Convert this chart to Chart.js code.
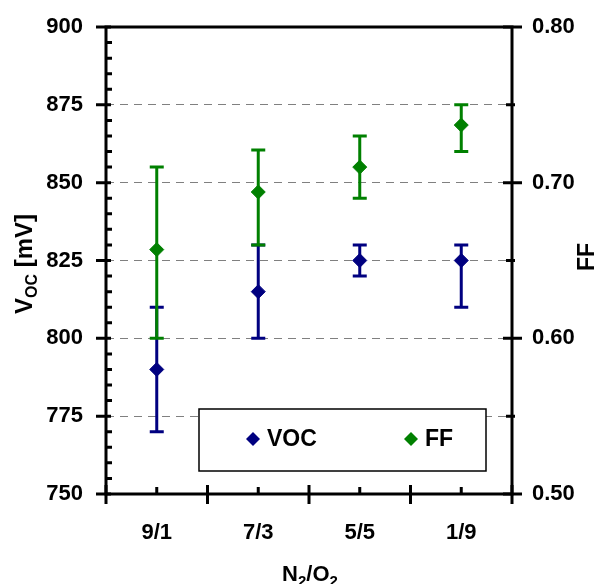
<!DOCTYPE html>
<html>
<head>
<meta charset="utf-8">
<script src="https://cdn.jsdelivr.net/npm/chart.js@4"></script>
<style>
  html, body { margin: 0; padding: 0; background: #fff; }
  canvas { display: block; }
</style>
</head>
<body>
<canvas id="chart" width="596" height="584"></canvas>
<script>
// gas ratio N2/O2 during processing
const categories = ['9/1', '7/3', '5/5', '1/9'];

// open-circuit voltage [mV] with error-bar limits
const vocValues = [790, 815, 825, 825];
const vocHigh = [810, 830, 830, 830];
const vocLow = [770, 800, 820, 810];

// fill factor with error-bar limits
const ffValues = [0.657, 0.694, 0.710, 0.737];
const ffHigh = [0.710, 0.721, 0.730, 0.750];
const ffLow = [0.600, 0.660, 0.690, 0.720];

const FONT = "'Liberation Sans', Arial, sans-serif";
const NAVY = '#000080';
const GREEN = '#008000';

// vertical error bars, drawn under each dataset's markers
const errorBars = {
  id: 'errorBars',
  beforeDatasetDraw(chart, args) {
    const ds = chart.data.datasets[args.index];
    if (!ds.errLow) return;
    const yScale = chart.scales[ds.yAxisID];
    const ctx = chart.ctx;
    ctx.save();
    ctx.strokeStyle = ds.borderColor;
    ctx.lineWidth = 3;
    args.meta.data.forEach((pt, i) => {
      const x = pt.x;
      const yHi = yScale.getPixelForValue(ds.errHigh[i]);
      const yLo = yScale.getPixelForValue(ds.errLow[i]);
      ctx.beginPath();
      ctx.moveTo(x, yHi); ctx.lineTo(x, yLo);
      ctx.moveTo(x - 7, yHi); ctx.lineTo(x + 7, yHi);
      ctx.moveTo(x - 7, yLo); ctx.lineTo(x + 7, yLo);
      ctx.stroke();
    });
    ctx.restore();
  }
};

// plot frame plus the tick marks that cross the axes
const axisFrame = {
  id: 'axisFrame',
  afterDatasetsDraw(chart) {
    const { ctx, chartArea: a, scales } = chart;
    ctx.save();
    ctx.strokeStyle = '#000';
    ctx.lineWidth = 3;
    ctx.strokeRect(a.left, a.top, a.right - a.left, a.bottom - a.top);
    ctx.beginPath();
    const y = scales.y;
    for (let v = y.min; v <= y.max; v += 5) {
      const py = y.getPixelForValue(v);
      if (v % 25 === 0) { ctx.moveTo(a.left - 10, py); ctx.lineTo(a.left + 5, py); }
      else { ctx.moveTo(a.left, py); ctx.lineTo(a.left + 6, py); }
    }
    const y1 = scales.y1;
    y1.ticks.forEach(t => {
      const py = y1.getPixelForValue(t.value);
      if (t.label !== '') { ctx.moveTo(a.right - 9, py); ctx.lineTo(a.right + 10, py); }
      else { ctx.moveTo(a.right - 6, py); ctx.lineTo(a.right + 3, py); }
    });
    const x = scales.x;
    for (let i = 0; i <= categories.length; i++) {
      const px = x.getPixelForValue(i - 0.5);
      ctx.moveTo(px, a.bottom - 9); ctx.lineTo(px, a.bottom + 10);
    }
    categories.forEach((c, i) => {
      const px = x.getPixelForValue(i);
      ctx.moveTo(px, a.bottom - 7); ctx.lineTo(px, a.bottom);
    });
    ctx.stroke();
    ctx.restore();
  }
};

// legend box inside the plot
const insideLegend = {
  id: 'insideLegend',
  afterDatasetsDraw(chart) {
    const ctx = chart.ctx;
    const a = chart.chartArea;
    const bx = a.left + 93, by = a.top + 382, bw = 287, bh = 62;
    ctx.save();
    ctx.fillStyle = '#fff';
    ctx.fillRect(bx, by, bw, bh);
    ctx.strokeStyle = '#000';
    ctx.lineWidth = 1.5;
    ctx.strokeRect(bx, by, bw, bh);
    const cy = by + 30;
    const slots = [bx + 54, bx + 212];
    chart.data.datasets.forEach((ds, i) => {
      const mx = slots[i];
      ctx.fillStyle = ds.backgroundColor;
      ctx.beginPath();
      ctx.moveTo(mx, cy - 7); ctx.lineTo(mx + 7, cy); ctx.lineTo(mx, cy + 7); ctx.lineTo(mx - 7, cy);
      ctx.closePath();
      ctx.fill();
      ctx.fillStyle = '#000';
      ctx.font = 'bold 23px ' + FONT;
      ctx.textBaseline = 'middle';
      ctx.textAlign = 'left';
      ctx.fillText(ds.label, mx + 14, cy + 1);
    });
    ctx.restore();
  }
};

// draws text pieces in a row, some as subscripts
function drawRich(ctx, parts, cx, baseY, size, subSize) {
  const widths = parts.map(p => {
    ctx.font = 'bold ' + (p.sub ? subSize : size) + 'px ' + FONT;
    return ctx.measureText(p.t).width;
  });
  let x = cx - widths.reduce((s, w) => s + w, 0) / 2;
  ctx.textAlign = 'left';
  ctx.textBaseline = 'alphabetic';
  parts.forEach((p, i) => {
    ctx.font = 'bold ' + (p.sub ? subSize : size) + 'px ' + FONT;
    ctx.fillText(p.t, x, baseY + (p.sub ? 5 : 0));
    x += widths[i];
  });
}

const axisTitles = {
  id: 'axisTitles',
  afterDraw(chart) {
    const ctx = chart.ctx;
    ctx.save();
    ctx.fillStyle = '#000';
    drawRich(ctx, [{ t: 'N' }, { t: '2', sub: true }, { t: '/O' }, { t: '2', sub: true }], 310, 581, 22, 15);
    ctx.save();
    ctx.translate(32, 264);
    ctx.rotate(-Math.PI / 2);
    drawRich(ctx, [{ t: 'V' }, { t: 'OC', sub: true }, { t: ' [mV]' }], 0, 0, 24, 16);
    ctx.restore();
    ctx.save();
    ctx.translate(594, 257);
    ctx.rotate(-Math.PI / 2);
    drawRich(ctx, [{ t: 'FF' }], 0, 0, 23, 16);
    ctx.restore();
    ctx.restore();
  }
};

// fixed axis sizes so the plot box sits where it should
function fitVertical(width) {
  return scale => {
    scale.width = width;
    scale.paddingTop = 0;
    scale.paddingBottom = 0;
  };
}

new Chart(document.getElementById('chart'), {
  type: 'line',
  data: {
    labels: categories,
    datasets: [
      {
        label: 'VOC',
        data: vocValues,
        errHigh: vocHigh,
        errLow: vocLow,
        yAxisID: 'y',
        showLine: false,
        pointStyle: 'rectRot',
        pointRadius: 7,
        borderColor: NAVY,
        backgroundColor: NAVY,
        borderWidth: 1,
        order: 1
      },
      {
        label: 'FF',
        data: ffValues,
        errHigh: ffHigh,
        errLow: ffLow,
        yAxisID: 'y1',
        showLine: false,
        pointStyle: 'rectRot',
        pointRadius: 7,
        borderColor: GREEN,
        backgroundColor: GREEN,
        borderWidth: 1,
        order: 0
      }
    ]
  },
  options: {
    responsive: false,
    animation: false,
    layout: { padding: { top: 27, left: 0, right: 0, bottom: 0 } },
    plugins: {
      legend: { display: false },
      tooltip: { enabled: false }
    },
    scales: {
      x: {
        type: 'category',
        offset: true,
        grid: { display: false, drawTicks: false },
        border: { display: false },
        ticks: {
          color: '#000',
          font: { family: FONT, size: 22, weight: 'bold' },
          padding: 26,
          maxRotation: 0
        },
        afterFit(scale) {
          scale.height = 90;
          scale.paddingLeft = 0;
          scale.paddingRight = 0;
        }
      },
      y: {
        position: 'left',
        min: 750,
        max: 900,
        ticks: {
          stepSize: 25,
          color: '#000',
          font: { family: FONT, size: 22, weight: 'bold' },
          padding: 23
        },
        grid: {
          drawTicks: false,
          lineWidth: 1,
          color: ctx => (ctx.tick && (ctx.tick.value === 750 || ctx.tick.value === 900)) ? 'rgba(0,0,0,0)' : '#808080'
        },
        border: { display: false, dash: [8, 6] },
        afterFit: fitVertical(106)
      },
      y1: {
        position: 'right',
        min: 0.5,
        max: 0.8,
        ticks: {
          stepSize: 0.05,
          color: '#000',
          font: { family: FONT, size: 22, weight: 'bold' },
          padding: 20,
          callback: v => Math.abs(Math.round(v * 10) - v * 10) < 1e-6 ? v.toFixed(2) : ''
        },
        grid: { display: false, drawTicks: false },
        border: { display: false },
        afterFit: fitVertical(84)
      }
    }
  },
  plugins: [errorBars, axisFrame, insideLegend, axisTitles]
});
</script>
</body>
</html>
